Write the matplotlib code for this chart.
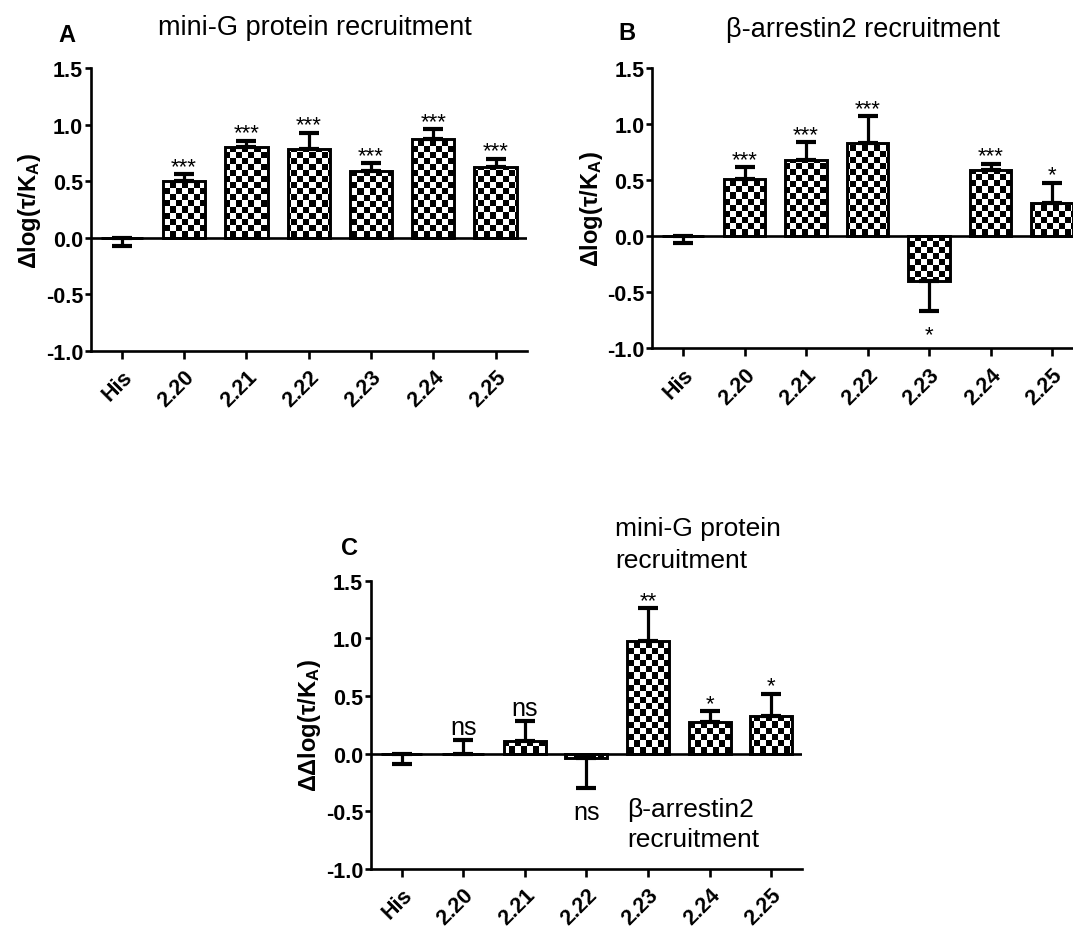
import matplotlib
matplotlib.use("Agg")
import matplotlib.pyplot as plt
import numpy as np

plt.rcParams['font.family'] = ['Liberation Sans', 'DejaVu Sans']
plt.rcParams['mathtext.fontset'] = 'custom'
plt.rcParams['mathtext.rm'] = 'Liberation Sans:bold'
plt.rcParams['mathtext.bf'] = 'Liberation Sans:bold'
plt.rcParams['mathtext.it'] = 'Liberation Sans:bold'

labels = ['His', '2.20', '2.21', '2.22', '2.23', '2.24', '2.25']

# panel A: mini-G protein recruitment
a_mean = [0.0, 0.50, 0.80, 0.79, 0.59, 0.87, 0.63]
a_err = [0.07, 0.06, 0.06, 0.14, 0.07, 0.09, 0.07]
a_sig = ['', '***', '***', '***', '***', '***', '***']

# panel B: beta-arrestin2 recruitment
b_mean = [0.0, 0.51, 0.68, 0.83, -0.40, 0.59, 0.30]
b_err = [0.06, 0.11, 0.16, 0.24, 0.27, 0.06, 0.18]
b_sig = ['', '***', '***', '***', '*', '***', '*']

# panel C: difference
c_mean = [0.0, 0.0, 0.11, -0.04, 0.98, 0.275, 0.33]
c_err = [0.09, 0.12, 0.17, 0.26, 0.28, 0.095, 0.19]
c_sig = ['', 'ns', 'ns', 'ns', '**', '*', '*']

# side the error bar is drawn on (+1 up, -1 down)
a_dir = [-1, 1, 1, 1, 1, 1, 1]
b_dir = [-1, 1, 1, 1, -1, 1, 1]
c_dir = [-1, 1, 1, -1, 1, 1, 1]

W, H = 1073, 929
fig = plt.figure(figsize=(W / 100, H / 100), dpi=100)


def checker(ax, patches):
    # checkerboard texture, ~6 px cells, clipped to every bar
    nx, ny = 72, 47
    board = (np.add.outer(np.arange(ny), np.arange(nx)) % 2).astype(float)
    for p in patches:
        im = ax.imshow(board, cmap='gray', extent=(-0.5, 6.5, -1.0, 1.5),
                       aspect='auto', interpolation='nearest', zorder=2,
                       origin='lower')
        im.set_clip_path(p)


def panel(rect, mean, err, sig, direction, ylabel, letter, lxy, title=None, txy=None):
    ax = fig.add_axes(rect)
    x = np.arange(len(labels))
    bars = ax.bar(x, mean, width=0.68, color='white', edgecolor='none', zorder=1)
    checker(ax, bars.patches)
    ax.bar(x, mean, width=0.68, facecolor='none', edgecolor='black',
           linewidth=2.1, zorder=3)
    lo = [e if d < 0 else 0 for e, d in zip(err, direction)]
    hi = [e if d > 0 else 0 for e, d in zip(err, direction)]
    ax.errorbar(x, mean, yerr=[lo, hi], fmt='none', ecolor='black',
                elinewidth=2.3, capsize=7.5, capthick=3.0, zorder=4)
    ax.axhline(0, color='black', linewidth=1.9, zorder=5)
    for i in range(len(labels)):
        s = sig[i]
        if not s:
            continue
        d = direction[i]
        cap = mean[i] + d * err[i]
        if s == 'ns':
            off = 4.5 if d > 0 else -22
            ax.annotate(s, (i, cap), xytext=(0, off), textcoords='offset points',
                        ha='center', va='baseline', fontsize=18)
        else:
            off = 1.5 if d > 0 else -21
            ax.annotate(s, (i, cap), xytext=(0, off), textcoords='offset points',
                        ha='center', va='baseline', fontsize=16)
    ax.set_xlim(-0.5, 6.5)
    ax.set_ylim(-1.0, 1.5)
    ax.set_yticks([-1.0, -0.5, 0.0, 0.5, 1.0, 1.5])
    ax.set_yticklabels(['-1.0', '-0.5', '0.0', '0.5', '1.0', '1.5'],
                       fontsize=15.5, fontweight='bold')
    ax.set_xticks(x)
    ax.set_xticklabels(labels, rotation=45, ha='right', va='top',
                       rotation_mode='anchor', fontsize=15.5, fontweight='bold')
    for sp in ['top', 'right']:
        ax.spines[sp].set_visible(False)
    for sp in ['left', 'bottom']:
        ax.spines[sp].set_linewidth(1.9)
    ax.tick_params(axis='y', direction='out', length=4.5, width=1.9, pad=1)
    ax.tick_params(axis='x', direction='out', length=6, width=1.9, pad=5)
    ax.set_ylabel(ylabel, fontsize=17, fontweight='bold', labelpad=2)
    ax.text(lxy[0], lxy[1], letter, transform=ax.transAxes, fontsize=17,
            fontweight='bold', ha='center', va='baseline')
    if title:
        ax.text(txy[0], txy[1], title, transform=ax.transAxes, fontsize=19.5,
                ha='center', va='baseline')
    return ax


ylab = 'Δlog(τ/K$_\\mathrm{A}$)'

panel([90.7 / W, 1 - 351.7 / H, 436 / W, 282.4 / H], a_mean, a_err, a_sig, a_dir,
      ylab, 'A', (-0.054, 1.097), 'mini-G protein recruitment', (0.515, 1.121))
panel([652.3 / W, 1 - 349.3 / H, 430.5 / W, 280 / H], b_mean, b_err, b_sig, b_dir,
      ylab, 'B', (-0.059, 1.105), 'β-arrestin2 recruitment', (0.49, 1.115))
axc = panel([370.7 / W, 1 - 870 / H, 431.3 / W, 288.3 / H], c_mean, c_err, c_sig,
            c_dir, 'Δ' + ylab, 'C', (-0.05, 1.093))
axc.text(3.47, 1.90, 'mini-G protein', fontsize=19, ha='left', va='baseline',
         clip_on=False)
axc.text(3.47, 1.62, 'recruitment', fontsize=19, ha='left', va='baseline',
         clip_on=False)
axc.text(3.66, -0.54, 'β-arrestin2', fontsize=19, ha='left', va='baseline')
axc.text(3.66, -0.80, 'recruitment', fontsize=19, ha='left', va='baseline')

fig.savefig('out.png', dpi=100)
